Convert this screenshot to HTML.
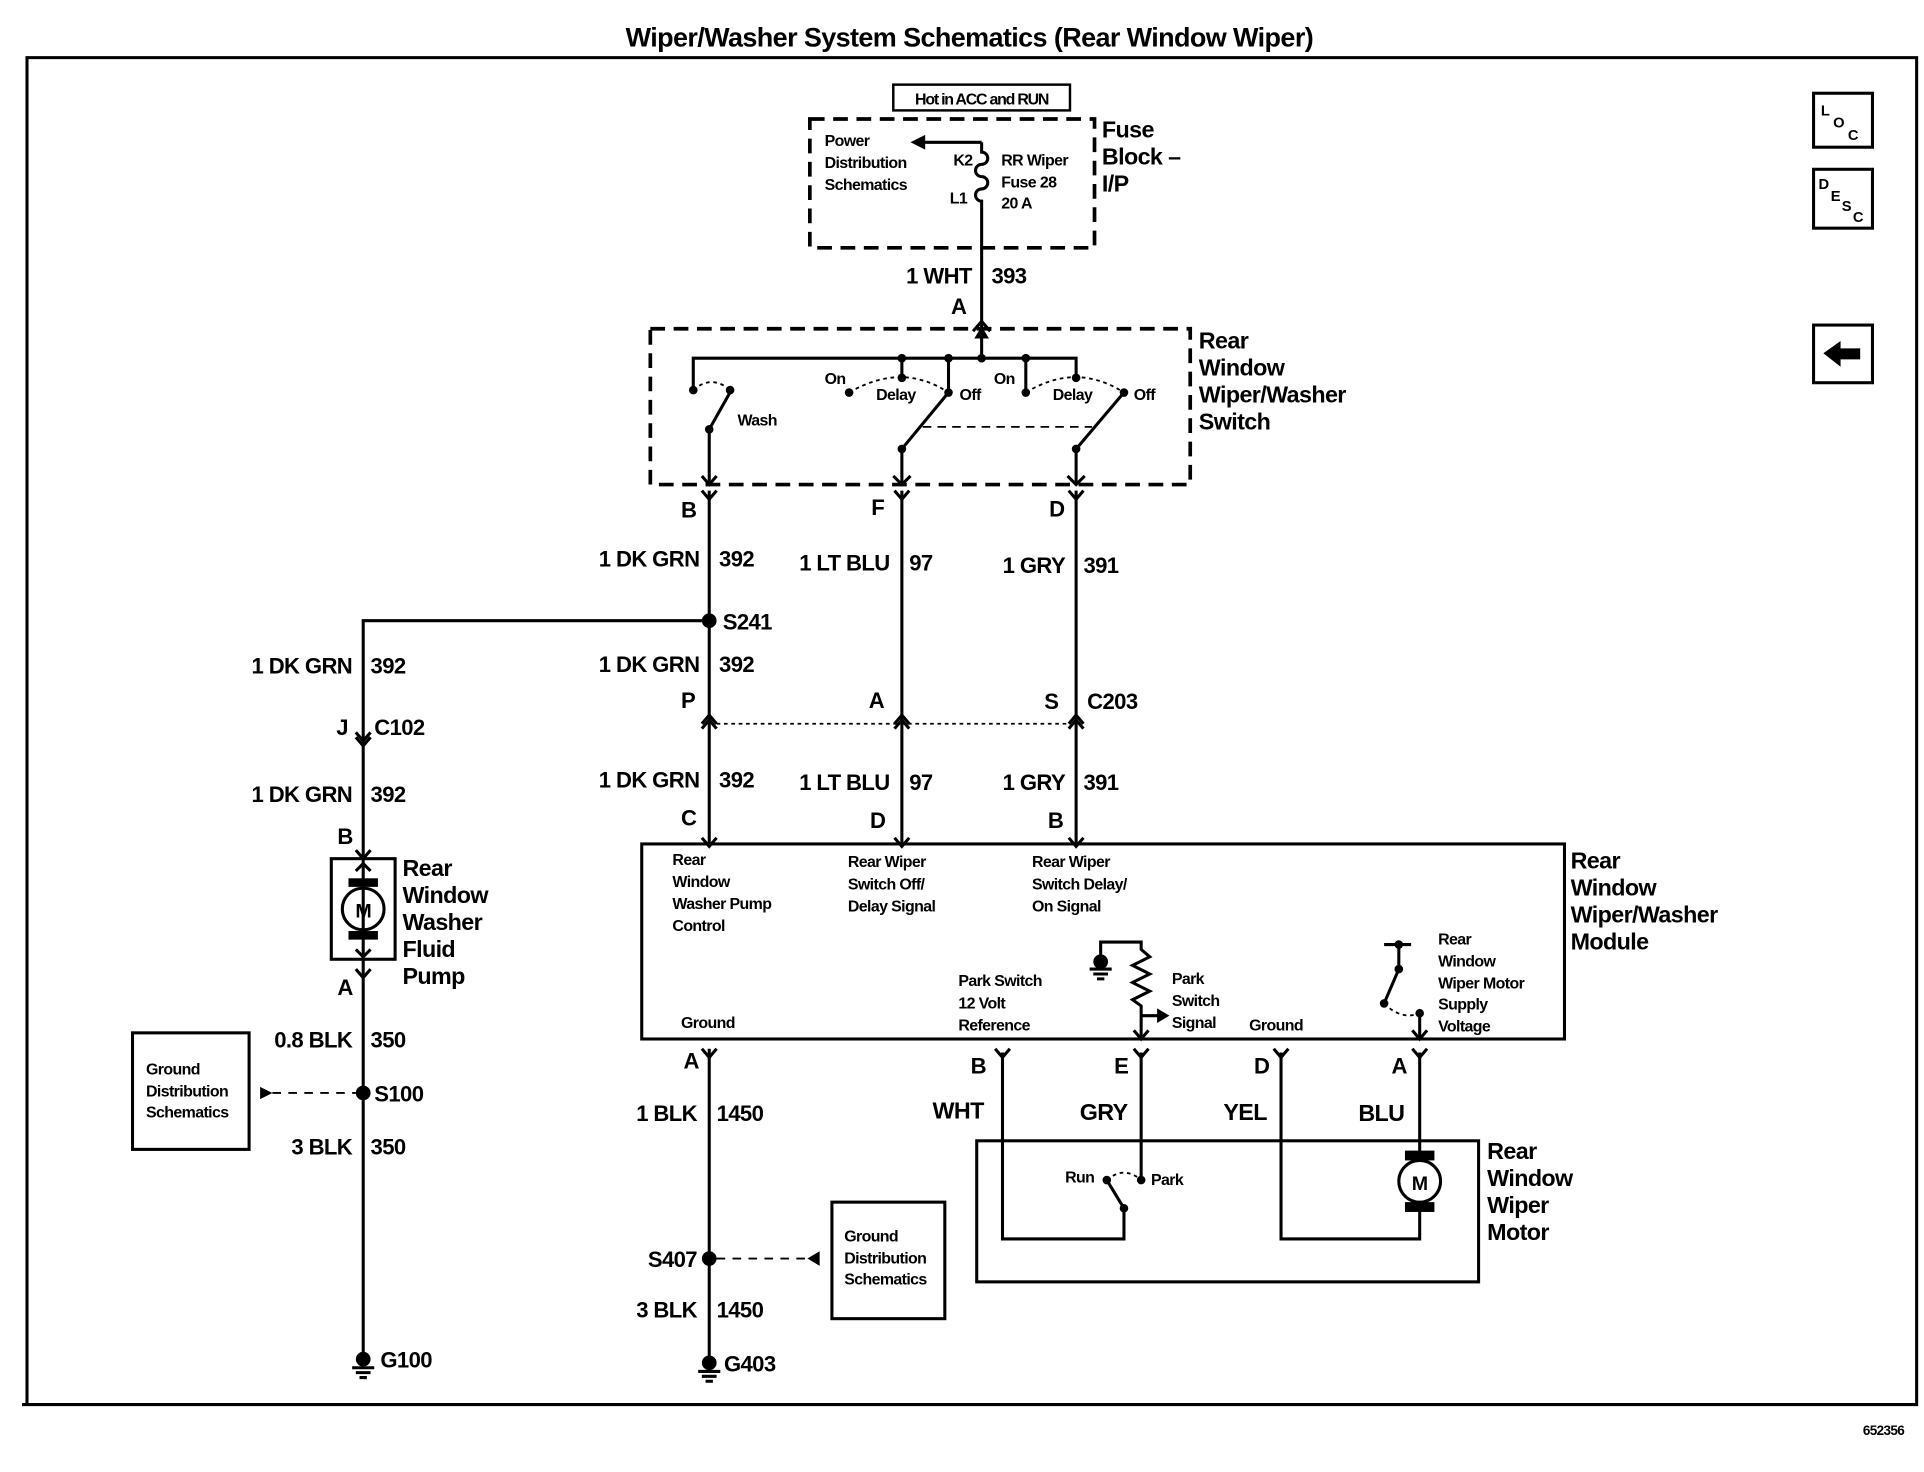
<!DOCTYPE html>
<html><head><style>
html,body{margin:0;padding:0;background:#fff;}
svg{display:block;}
text{font-family:"Liberation Sans",sans-serif;font-weight:bold;fill:#000;letter-spacing:-0.5px;}
.s{font-size:13px;}
.m{font-size:18px;}
.l{font-size:19px;}
</style></head><body>
<svg width="1924" height="1472" viewBox="0 0 1568 1200" preserveAspectRatio="none" xmlns="http://www.w3.org/2000/svg">
<g fill="none" stroke="#000" stroke-width="2.5">
<polyline points="22,1145 22,47 1562,47 1562,1145 18,1145"/>
<rect x="728" y="69" width="144" height="21" stroke-width="2"/>
<rect x="660" y="97" width="232" height="105" stroke-dasharray="12,7" stroke-width="3"/>
<line x1="800" y1="116" x2="752" y2="116"/>
<path d="M800 116 v8 a5 5 0 0 1 0 10 a5 5 0 0 0 0 10 a5 5 0 0 1 0 10 a5 5 0 0 0 0 10 V262"/>
<path d="M793 270 L800 262 L807 270"/>
<line x1="800" y1="262" x2="800" y2="292"/>
<rect x="530" y="268" width="440" height="127" stroke-dasharray="12,7" stroke-width="3"/>
<polyline points="565,318 565,292 877,292 877,308"/>
<line x1="735" y1="292" x2="735" y2="308"/>
<line x1="773" y1="292" x2="773" y2="320"/>
<line x1="836" y1="292" x2="836" y2="320"/>
<path d="M565 318 Q580 305 595 318" stroke-dasharray="3,3" stroke-width="1.5"/>
<line x1="578" y1="350" x2="596" y2="318"/>
<line x1="578" y1="350" x2="578" y2="395"/>
<path d="M692 320 Q735 295 773 320" stroke-dasharray="3,3" stroke-width="1.5"/>
<line x1="735" y1="366" x2="773" y2="320"/>
<line x1="735" y1="366" x2="735" y2="395"/>
<path d="M836 320 Q877 295 916 320" stroke-dasharray="3,3" stroke-width="1.5"/>
<line x1="877" y1="366" x2="916" y2="320"/>
<line x1="877" y1="366" x2="877" y2="395"/>
<line x1="752" y1="348" x2="890" y2="348" stroke-dasharray="7,5" stroke-width="1.5"/>
<path d="M572 388 L578 395 L584 388 M728 388 L735 395 L742 388 M870 388 L877 395 L884 388"/>
<path d="M572 400 L578 407 L584 400 M729 400 L735 407 L741 400 M871 400 L877 407 L883 400"/>
<line x1="578" y1="400" x2="578" y2="690"/>
<line x1="578" y1="855" x2="578" y2="1110"/>
<line x1="735" y1="400" x2="735" y2="690"/>
<line x1="877" y1="400" x2="877" y2="690"/>
<polyline points="578,506 296,506 296,1105"/>
<path d="M572 590 L578 583 L584 590 M572 594 L578 587 L584 594 M729 590 L735 583 L741 590 M729 594 L735 587 L741 594 M871 590 L877 583 L883 590 M871 594 L877 587 L883 594"/>
<line x1="584" y1="590" x2="871" y2="590" stroke-dasharray="3,3" stroke-width="1.5"/>
<path d="M290 597 L296 604 L302 597 M290 601 L296 608 L302 601"/>
<path d="M572 683 L578 690 L584 683 M729 683 L735 690 L741 683 M871 683 L877 690 L883 683"/>
<path d="M290 693 L296 700 L302 693"/>
<rect x="270" y="700" width="52" height="82"/>
<circle cx="296" cy="741" r="17"/>
<path d="M290 710 L296 704 L302 710 M290 774 L296 780 L302 774"/>
<path d="M290 790 L296 797 L302 790"/>
<rect x="108" y="842" width="95" height="95"/>
<line x1="222" y1="891" x2="290" y2="891" stroke-dasharray="7,6" stroke-width="1.5"/>
<rect x="523" y="688" width="752" height="159"/>
<polyline points="897,786 897,768 930,768 930,774 937,780 923,787 937,794 923,801 937,808 923,815 930,820 930,847"/>
<line x1="930" y1="828" x2="945" y2="828"/>
<line x1="1128" y1="770" x2="1150" y2="770"/>
<line x1="1140" y1="770" x2="1140" y2="790"/>
<line x1="1140" y1="790" x2="1128" y2="818"/>
<path d="M1128 818 Q1142 832 1157 826" stroke-dasharray="3,3" stroke-width="1.5"/>
<line x1="1157" y1="826" x2="1157" y2="847"/>
<path d="M1151 840 L1157 847 L1163 840 M924 840 L930 847 L936 840"/>
<path d="M572 855 L578 862 L584 855 M811 855 L817 862 L823 855 M924 855 L930 862 L936 855 M1038 855 L1044 862 L1050 855 M1151 855 L1157 862 L1163 855"/>
<polyline points="817,858 817,1010 916,1010 916,985"/>
<line x1="930" y1="858" x2="930" y2="962"/>
<polyline points="1044,858 1044,1010 1157,1010 1157,985"/>
<line x1="1157" y1="858" x2="1157" y2="942"/>
<line x1="902" y1="962" x2="916" y2="985"/>
<path d="M902 962 Q916 950 930 962" stroke-dasharray="3,3" stroke-width="1.5"/>
<rect x="796" y="930" width="409" height="115"/>
<circle cx="1157" cy="963" r="17"/>
<rect x="678" y="980" width="92" height="95"/>
<line x1="584" y1="1026" x2="660" y2="1026" stroke-dasharray="7,6" stroke-width="1.5"/>
<path d="M287 1115 h18 M290 1119 h12 M293 1123 h6 M569 1118 h18 M572 1122 h12 M575 1126 h6 M888 790 h18 M891 794 h12 M894 798 h6"/>
<rect x="1478" y="76" width="48" height="44"/>
<rect x="1478" y="138" width="48" height="48"/>
<rect x="1478" y="265" width="48" height="47"/>
</g>
<g fill="#000">
<polygon points="742,116 754,110 754,122"/>
<polygon points="800,266 794,276 806,276"/>
<circle cx="565" cy="318" r="3.5"/><circle cx="595" cy="318" r="3.5"/><circle cx="578" cy="350" r="3.5"/>
<circle cx="735" cy="292" r="3.5"/><circle cx="773" cy="292" r="3.5"/><circle cx="800" cy="292" r="3.5"/><circle cx="836" cy="292" r="3.5"/>
<circle cx="692" cy="320" r="3.5"/><circle cx="735" cy="308" r="3.5"/><circle cx="773" cy="320" r="3.5"/><circle cx="735" cy="366" r="3.5"/>
<circle cx="836" cy="320" r="3.5"/><circle cx="877" cy="308" r="3.5"/><circle cx="916" cy="320" r="3.5"/><circle cx="877" cy="366" r="3.5"/>
<circle cx="578" cy="506" r="6"/><circle cx="296" cy="891" r="6"/><circle cx="578" cy="1026" r="6"/>
<circle cx="296" cy="1108" r="6"/><circle cx="578" cy="1111" r="6"/><circle cx="897" cy="784" r="6"/>
<polygon points="212,886 222,891 212,896"/>
<polygon points="668,1020 658,1026 668,1032"/>
<polygon points="953,828 943,822 943,834"/>
<rect x="284" y="716" width="24" height="7"/><rect x="284" y="759" width="24" height="7"/>
<rect x="1145" y="938" width="24" height="8"/><rect x="1145" y="980" width="24" height="8"/>
<circle cx="1140" cy="770" r="3.5"/><circle cx="1140" cy="790" r="3.5"/><circle cx="1128" cy="818" r="3.5"/><circle cx="1157" cy="826" r="3.5"/>
<circle cx="902" cy="962" r="3.5"/><circle cx="930" cy="962" r="3.5"/><circle cx="916" cy="985" r="3.5"/>
<polygon points="1486,288 1500,278 1500,284 1516,284 1516,293 1500,293 1500,299"/>
</g>
<text x="790" y="38" text-anchor="middle" style="font-size:22px">Wiper/Washer System Schematics (Rear Window Wiper)</text>
<text x="1535" y="1170" text-anchor="middle" style="font-size:11px">652356</text>
<text x="800" y="85" text-anchor="middle" style="font-size:13px;letter-spacing:-1px">Hot in ACC and RUN</text>
<text class="s" x="672" y="119">Power</text><text class="s" x="672" y="137">Distribution</text><text class="s" x="672" y="155">Schematics</text>
<text class="s" x="777" y="135">K2</text><text class="s" x="774" y="166">L1</text>
<text class="s" x="816" y="135">RR Wiper</text><text class="s" x="816" y="153">Fuse 28</text><text class="s" x="816" y="170">20 A</text>
<text class="l" x="898" y="112">Fuse</text><text class="l" x="898" y="134">Block –</text><text class="l" x="898" y="156">I/P</text>
<text class="m" x="792" y="231" text-anchor="end">1 WHT</text><text class="m" x="808" y="231">393</text>
<text class="m" x="775" y="256">A</text>
<text class="l" x="977" y="284">Rear</text><text class="l" x="977" y="306">Window</text><text class="l" x="977" y="328">Wiper/Washer</text><text class="l" x="977" y="350">Switch</text>
<text class="s" x="601" y="347">Wash</text>
<text class="s" x="672" y="313">On</text><text class="s" x="714" y="326">Delay</text><text class="s" x="782" y="326">Off</text>
<text class="s" x="810" y="313">On</text><text class="s" x="858" y="326">Delay</text><text class="s" x="924" y="326">Off</text>
<text class="m" x="555" y="422">B</text><text class="m" x="710" y="420">F</text><text class="m" x="855" y="421">D</text>
<text class="m" x="570" y="462" text-anchor="end">1 DK GRN</text><text class="m" x="586" y="462">392</text>
<text class="m" x="725" y="465" text-anchor="end">1 LT BLU</text><text class="m" x="741" y="465">97</text>
<text class="m" x="868" y="467" text-anchor="end">1 GRY</text><text class="m" x="883" y="467">391</text>
<text class="m" x="589" y="513">S241</text>
<text class="m" x="287" y="549" text-anchor="end">1 DK GRN</text><text class="m" x="302" y="549">392</text>
<text class="m" x="570" y="548" text-anchor="end">1 DK GRN</text><text class="m" x="586" y="548">392</text>
<text class="m" x="555" y="577">P</text><text class="m" x="708" y="577">A</text><text class="m" x="851" y="578">S</text><text class="m" x="886" y="578">C203</text>
<text class="m" x="274" y="599">J</text><text class="m" x="305" y="599">C102</text>
<text class="m" x="287" y="654" text-anchor="end">1 DK GRN</text><text class="m" x="302" y="654">392</text>
<text class="m" x="570" y="642" text-anchor="end">1 DK GRN</text><text class="m" x="586" y="642">392</text>
<text class="m" x="725" y="644" text-anchor="end">1 LT BLU</text><text class="m" x="741" y="644">97</text>
<text class="m" x="868" y="644" text-anchor="end">1 GRY</text><text class="m" x="883" y="644">391</text>
<text class="m" x="555" y="673">C</text><text class="m" x="709" y="675">D</text><text class="m" x="854" y="675">B</text>
<text class="m" x="275" y="688">B</text>
<text x="296" y="748" text-anchor="middle" style="font-size:16px">M</text>
<text class="l" x="328" y="714">Rear</text><text class="l" x="328" y="736">Window</text><text class="l" x="328" y="758">Washer</text><text class="l" x="328" y="780">Fluid</text><text class="l" x="328" y="802">Pump</text>
<text class="m" x="275" y="811">A</text>
<text class="m" x="287" y="854" text-anchor="end">0.8 BLK</text><text class="m" x="302" y="854">350</text>
<text class="m" x="305" y="898">S100</text>
<text class="m" x="287" y="941" text-anchor="end">3 BLK</text><text class="m" x="302" y="941">350</text>
<text class="s" x="119" y="876">Ground</text><text class="s" x="119" y="894">Distribution</text><text class="s" x="119" y="911">Schematics</text>
<text class="m" x="310" y="1115">G100</text>
<text class="s" x="548" y="705">Rear</text><text class="s" x="548" y="723">Window</text><text class="s" x="548" y="741">Washer Pump</text><text class="s" x="548" y="759">Control</text>
<text class="s" x="691" y="707">Rear Wiper</text><text class="s" x="691" y="725">Switch Off/</text><text class="s" x="691" y="743">Delay Signal</text>
<text class="s" x="841" y="707">Rear Wiper</text><text class="s" x="841" y="725">Switch Delay/</text><text class="s" x="841" y="743">On Signal</text>
<text class="l" x="1280" y="708">Rear</text><text class="l" x="1280" y="730">Window</text><text class="l" x="1280" y="752">Wiper/Washer</text><text class="l" x="1280" y="774">Module</text>
<text class="s" x="555" y="838">Ground</text>
<text class="s" x="781" y="804">Park Switch</text><text class="s" x="781" y="822">12 Volt</text><text class="s" x="781" y="840">Reference</text>
<text class="s" x="955" y="802">Park</text><text class="s" x="955" y="820">Switch</text><text class="s" x="955" y="838">Signal</text>
<text class="s" x="1018" y="840">Ground</text>
<text class="s" x="1172" y="770">Rear</text><text class="s" x="1172" y="788">Window</text><text class="s" x="1172" y="806">Wiper Motor</text><text class="s" x="1172" y="823">Supply</text><text class="s" x="1172" y="841">Voltage</text>
<text class="m" x="557" y="871">A</text><text class="m" x="791" y="875">B</text><text class="m" x="908" y="875">E</text><text class="m" x="1022" y="875">D</text><text class="m" x="1134" y="875">A</text>
<text class="l" x="760" y="912">WHT</text><text class="l" x="880" y="913">GRY</text><text class="l" x="997" y="913">YEL</text><text class="l" x="1107" y="914">BLU</text>
<text class="m" x="568" y="914" text-anchor="end">1 BLK</text><text class="m" x="584" y="914">1450</text>
<text class="m" x="568" y="1033" text-anchor="end">S407</text>
<text class="m" x="568" y="1074" text-anchor="end">3 BLK</text><text class="m" x="584" y="1074">1450</text>
<text class="m" x="590" y="1118">G403</text>
<text class="s" x="688" y="1012">Ground</text><text class="s" x="688" y="1030">Distribution</text><text class="s" x="688" y="1047">Schematics</text>
<text class="s" x="868" y="964">Run</text><text class="s" x="938" y="966">Park</text>
<text x="1157" y="970" text-anchor="middle" style="font-size:16px">M</text>
<text class="l" x="1212" y="945">Rear</text><text class="l" x="1212" y="967">Window</text><text class="l" x="1212" y="989">Wiper</text><text class="l" x="1212" y="1011">Motor</text>
<text x="1484" y="94" style="font-size:12px">L</text><text x="1494" y="104" style="font-size:12px">O</text><text x="1506" y="114" style="font-size:12px">C</text>
<text x="1482" y="154" style="font-size:12px">D</text><text x="1492" y="164" style="font-size:12px">E</text><text x="1501" y="172" style="font-size:12px">S</text><text x="1510" y="181" style="font-size:12px">C</text>
</svg>
</body></html>
